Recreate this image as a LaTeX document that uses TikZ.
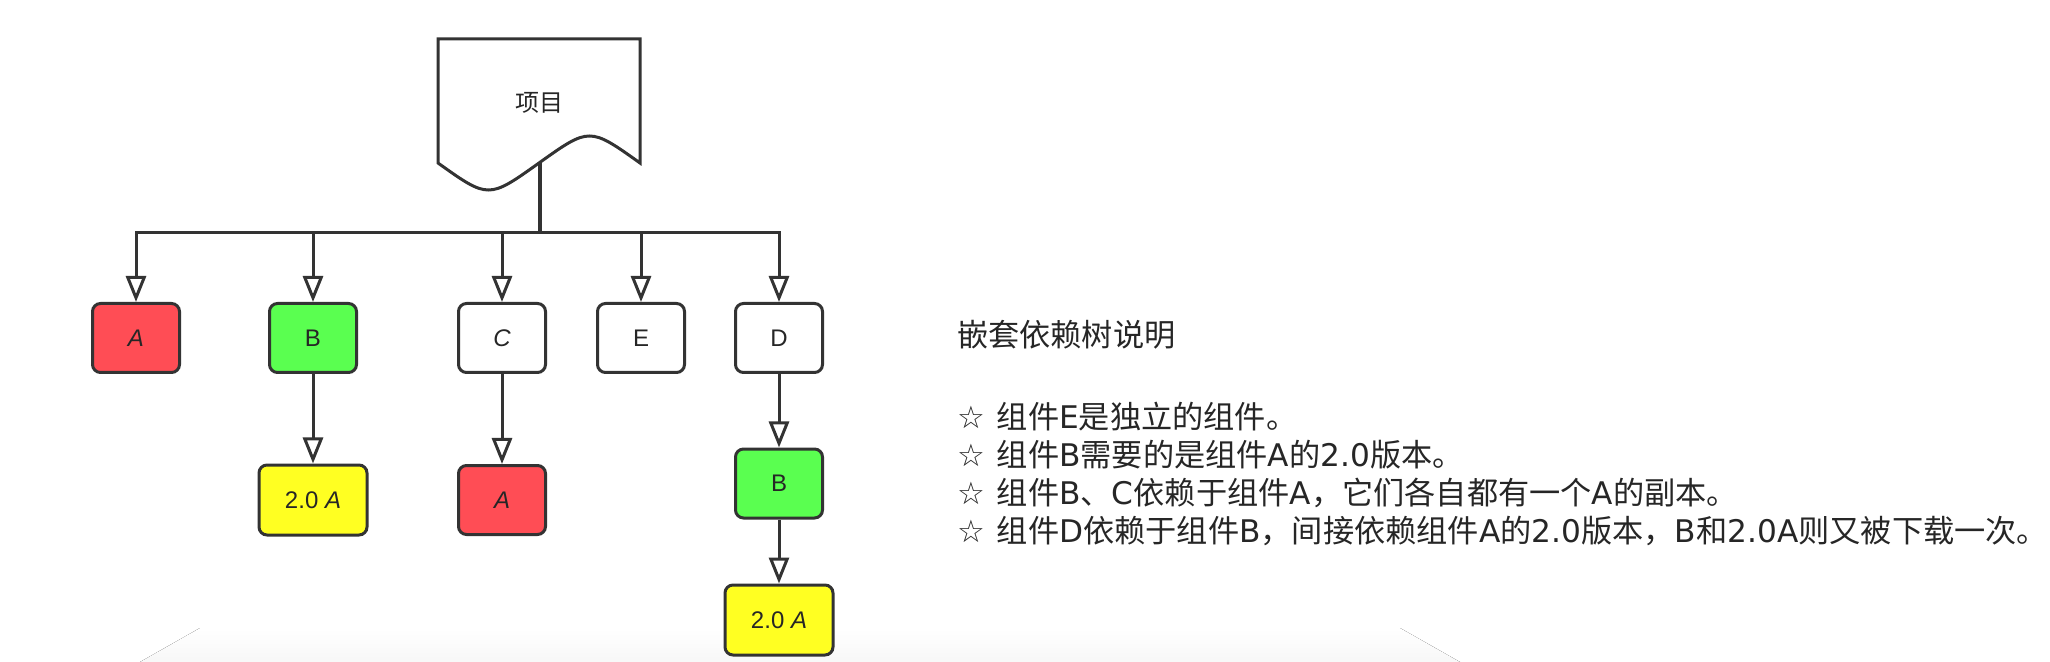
\documentclass[tikz,border=0pt]{standalone}
\usepackage{fontspec}
\setmainfont{Liberation Sans}
\newfontfamily\cjk{Noto Sans CJK SC}
\newfontfamily\symfont{DejaVu Sans}
\newcommand{\lat}[1]{{\symfont #1}}
\newcommand{\starmark}{{\symfont\fontsize{15.5}{18}\selectfont ☆}\hspace{6pt}}
\usepackage{tikz}
\usetikzlibrary{arrows.meta,calc,positioning}
\definecolor{linegray}{HTML}{333333}
\definecolor{depred}{HTML}{FF4D55}
\definecolor{depgreen}{HTML}{5AFF50}
\definecolor{depyellow}{HTML}{FFFF22}

\begin{document}
\begin{tikzpicture}[x=0.5pt, y=-0.5pt,
    box/.style={draw=linegray, line width=1.5pt, rounded corners=4pt,
      minimum width=43.5pt, minimum height=34.5pt, inner sep=0pt,
      font=\fontsize{12}{14}\selectfont, text=black!85},
    widebox/.style={box, minimum width=54pt, minimum height=35pt},
    dep/.style={draw=linegray, line width=1.5pt,
      -{Triangle[open, length=13pt, width=10pt]}},
    note/.style={anchor=west, font=\cjk\fontsize{15.6}{18}\selectfont, text=black!85}]
  \useasboundingbox (0,0) rectangle (2050,662);
  % faint shadow at the bottom
  \fill[top color=white, bottom color=black!3] (200,628) -- (1400,628) -- (1460,662) -- (140,662) -- cycle;
  % project (document shape)
  \draw[draw=linegray, line width=1.5pt, fill=white] (438,39) -- (640,39) -- (640,163)
    .. controls (589.5,127) .. (539,163) .. controls (488.5,199) .. (438,163) -- cycle;
  \node[font=\cjk\fontsize{12}{14}\selectfont, text=black!85] (proj) at (539,103) {项目};
  \coordinate (docb) at (540,163);
  \coordinate (bus) at (540,233);
  % first level
  \node[box, fill=depred] (a1) at (136,338) {\itshape A};
  \node[box, fill=depgreen] (b1) at (313,338) {B};
  \node[box, fill=white] (c1) at (502,338) {\itshape C};
  \node[box, fill=white] (e1) at (641,338) {E};
  \node[box, fill=white] (d1) at (779,338) {D};
  % second level
  \node[widebox, fill=depyellow] (b2) at (313,500) {2.0 \itshape A};
  \node[box, fill=depred] (c2) at (502,500) {\itshape A};
  \node[box, fill=depgreen] (d2) at (779,483.5) {B};
  \node[widebox, fill=depyellow] (d3) at (779,620) {2.0 \itshape A};
  % trunk
  \draw[draw=linegray, line width=2.4pt] (docb) -- (bus);
  \draw[dep] (bus) -| (a1);
  \draw[dep] (bus) -| (b1);
  \draw[dep] (bus) -| (c1);
  \draw[dep] (bus) -| (e1);
  \draw[dep] (bus) -| (d1);
  % children
  \draw[dep] (b1) -- (b2);
  \draw[dep] (c1) -- (c2);
  \draw[dep] (d1) -- (d2);
  \draw[dep] (d2) -- (d3);
  % notes
  \node[note] (title) at (950,335) {嵌套依赖树说明};
  \node[note] (n1) at (950,417) {\starmark 组件\lat{E}是独立的组件。};
  \node[note] (n2) at (950,455) {\starmark 组件\lat{B}需要的是组件\lat{A}的\lat{2.0}版本。};
  \node[note] (n3) at (950,493) {\starmark 组件\lat{B}、\lat{C}依赖于组件\lat{A}，它们各自都有一个\lat{A}的副本。};
  \node[note] (n4) at (950,531) {\starmark 组件\lat{D}依赖于组件\lat{B}，间接依赖组件\lat{A}的\lat{2.0}版本，\lat{B}和\lat{2.0A}则又被下载一次。};
\end{tikzpicture}
\end{document}
